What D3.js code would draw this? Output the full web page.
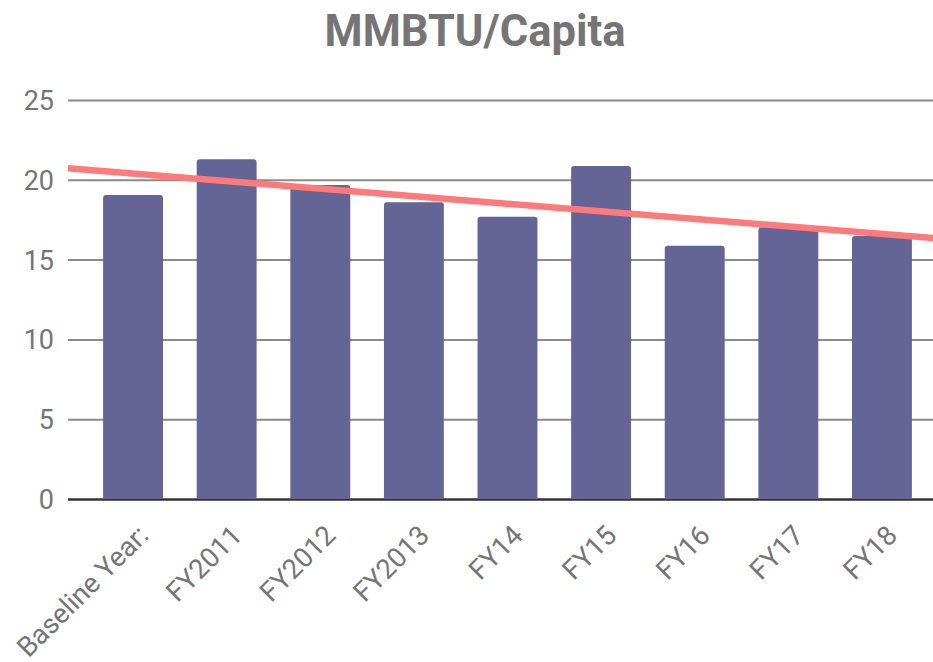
<!DOCTYPE html>
<html>
<head>
<meta charset="utf-8">
<script src="https://cdn.jsdelivr.net/npm/d3@7"></script>
<style>
  html, body { margin: 0; padding: 0; background: #fff; }
  svg { display: block; font-family: Roboto, "Noto Sans", sans-serif; }
</style>
</head>
<body>
<svg id="chart" width="933" height="662"></svg>
<script>
const title = "MMBTU/Capita";
const categories = ["Baseline Year:", "FY2011", "FY2012", "FY2013", "FY14", "FY15", "FY16", "FY17", "FY18"];
const values = [19.05, 21.28, 19.67, 18.59, 17.69, 20.86, 15.87, 17.02, 16.48];
const yTicks = [0, 5, 10, 15, 20, 25];

const svg = d3.select("#chart");
const plot = { left: 68, right: 947, top: 100, bottom: 499 };

const x = d3.scaleBand().domain(categories).range([plot.left, plot.right])
  .paddingInner(0.36).paddingOuter(0.375);
const y = d3.scaleLinear().domain([0, 25]).range([plot.bottom, plot.top]);

// title
svg.append("text")
  .attr("x", 475).attr("y", 46)
  .attr("text-anchor", "middle")
  .attr("font-size", 43.5).attr("font-weight", "bold")
  .attr("fill", "#757575")
  .text(title);

// gridlines
const yAxis = d3.axisLeft(y).tickValues(yTicks).tickSize(-(plot.right - plot.left)).tickPadding(14);
const gy = svg.append("g").attr("transform", `translate(${plot.left},0)`).call(yAxis);
gy.select(".domain").remove();
gy.selectAll(".tick line").attr("stroke", "#8a8a8a").attr("stroke-width", 2);
gy.selectAll(".tick text").attr("fill", "#757575").attr("font-size", 27)
  .attr("font-family", "Roboto, sans-serif").attr("x", -14).attr("dy", "0.35em");
gy.selectAll(".tick").filter(d => d === 0).select("line").attr("stroke", "#333").attr("stroke-width", 2.5);

// bars
svg.append("g").selectAll("path").data(categories).join("path")
  .attr("fill", "#646496")
  .attr("d", (c, i) => {
    const x0 = x(c), w = x.bandwidth(), y0 = y(values[i]), yb = y(0), r = 3;
    return `M${x0},${yb}V${y0 + r}Q${x0},${y0} ${x0 + r},${y0}H${x0 + w - r}Q${x0 + w},${y0} ${x0 + w},${y0 + r}V${yb}Z`;
  });

// linear trendline (least squares over category index)
const n = values.length;
const mx = d3.mean(values, (v, i) => i);
const my = d3.mean(values);
const slope = d3.sum(values, (v, i) => (i - mx) * (v - my)) / d3.sum(values, (v, i) => (i - mx) ** 2);
const intercept = my - slope * mx;
const idx = d3.scaleLinear()
  .domain([x(categories[0]) + x.bandwidth() / 2, x(categories[n - 1]) + x.bandwidth() / 2])
  .range([0, n - 1]);
const trendX = [plot.left, plot.right];
svg.append("path")
  .datum(trendX)
  .attr("fill", "none").attr("stroke", "#ff7b7b").attr("stroke-width", 6.5)
  .attr("d", d3.line().x(d => d).y(d => y(intercept + slope * idx(d))));

// x labels
const gx = svg.append("g");
gx.selectAll("text").data(categories).join("text")
  .attr("transform", c => `translate(${x(c) + x.bandwidth() / 2 + 17},537) rotate(-45)`)
  .attr("text-anchor", "end")
  .attr("font-size", 27.5)
  .attr("fill", "#757575")
  .text(c => c);
</script>
</body>
</html>
